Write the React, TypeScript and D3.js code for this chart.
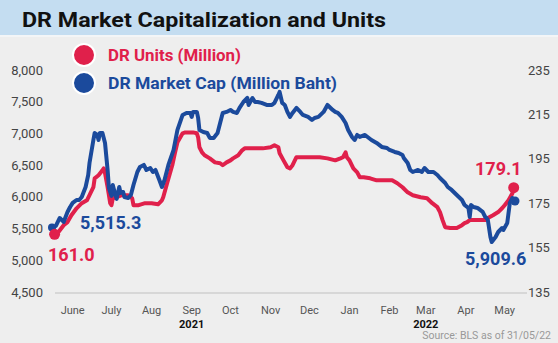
import React from "react";
import * as d3 from "d3";

const W = 558;
const H = 343;

const TITLE = "DR Market Capitalization and Units";
const SOURCE = "Source: BLS as of 31/05/22";
const LEGEND_UNITS = "DR Units (Million)";
const LEGEND_CAP = "DR Market Cap (Million Baht)";

const START = new Date(2021, 4, 31);
const END = new Date(2022, 4, 24);

const leftTicks = [4500, 5000, 5500, 6000, 6500, 7000, 7500, 8000];
const rightTicks = [135, 155, 175, 195, 215, 235];
const monthLabels = ["June", "July", "Aug", "Sep", "Oct", "Nov", "Dec", "Jan", "Feb", "Mar", "Apr", "May"];
const yearLabels = [
  { month: 3, label: "2021" },
  { month: 9, label: "2022" },
];

// [days since 31 May 2021, value]
const marketCap: [number, number][] = [
  [0, 5515.3], [3, 5541], [6, 5667], [9, 5604], [12, 5762], [14, 5840], [16, 5904], [19, 5951],
  [21, 5951], [23, 5998], [26, 6156], [28, 6345], [29, 6534], [32, 6897], [33, 7007], [35, 6976],
  [36, 6897], [37, 7007], [39, 7007], [41, 6850], [43, 6424], [44, 6140], [46, 6014], [47, 6187],
  [49, 6030], [50, 5967], [52, 6156], [53, 6061], [55, 6077], [56, 5998], [59, 5982], [61, 6030],
  [63, 6187], [66, 6392], [68, 6471], [71, 6503], [73, 6424], [76, 6455], [78, 6392], [80, 6424],
  [83, 6266], [85, 6156], [87, 6266], [90, 6503], [94, 6739], [97, 7055], [101, 7291], [104, 7323],
  [107, 7323], [108, 7260], [109, 7339], [112, 7339], [113, 7244], [114, 7055], [117, 7023], [120, 7007],
  [122, 6929], [125, 6929], [128, 7007], [130, 7165], [132, 7323], [135, 7339], [138, 7370], [140, 7339],
  [143, 7323], [145, 7402], [148, 7496], [151, 7559], [152, 7449], [155, 7559], [157, 7496], [159, 7496],
  [162, 7481], [166, 7449], [170, 7449], [172, 7481], [175, 7607], [176, 7654], [178, 7481], [180, 7449],
  [182, 7339], [184, 7260], [186, 7323], [189, 7402], [192, 7339], [194, 7291], [198, 7260], [201, 7212],
  [203, 7244], [206, 7260], [210, 7339], [213, 7449], [217, 7370], [219, 7339], [221, 7323], [224, 7260],
  [227, 7165], [229, 7055], [232, 6944], [234, 6897], [236, 6976], [238, 6944], [242, 6976], [244, 6944],
  [247, 6897], [251, 6850], [255, 6787], [259, 6771], [261, 6739], [265, 6708], [268, 6692], [271, 6660],
  [272, 6613], [275, 6534], [277, 6424], [279, 6392], [283, 6424], [286, 6392], [288, 6455], [291, 6392],
  [295, 6392], [298, 6345], [300, 6298], [304, 6219], [306, 6156], [309, 6109], [313, 6030], [317, 5951],
  [319, 5872], [322, 5825], [323, 5683], [324, 5872], [326, 5840], [329, 5825], [333, 5762], [335, 5683],
  [336, 5667], [337, 5635], [339, 5367], [340, 5289], [343, 5367], [345, 5446], [348, 5509], [349, 5478],
  [352, 5588], [353, 5746], [354, 5904], [356, 5982], [358, 5935],
];

const units: [number, number][] = [
  [2, 161.0], [5, 162.0], [9, 165.1], [12, 166.5], [15, 169.6], [19, 172.7], [23, 175.0], [27, 176.3],
  [29, 178.6], [32, 182.2], [33, 186.2], [36, 187.6], [39, 189.8], [40, 190.7], [41, 188.5], [43, 182.2],
  [45, 175.0], [46, 174.1], [47, 177.2], [50, 177.7], [54, 178.6], [59, 178.6], [62, 177.2], [63, 174.1],
  [67, 174.1], [72, 175.0], [77, 175.0], [82, 174.5], [85, 176.3], [86, 177.7], [89, 184.0], [93, 192.1],
  [95, 197.5], [97, 202.4], [101, 206.5], [103, 206.9], [109, 206.9], [112, 206.5], [113, 204.7], [114, 200.2],
  [116, 197.9], [118, 196.6], [122, 195.2], [126, 193.4], [130, 193.0], [132, 192.1], [135, 193.4], [138, 194.3],
  [140, 195.2], [144, 196.6], [147, 198.8], [149, 199.7], [153, 199.7], [159, 199.7], [163, 199.7], [169, 200.2],
  [172, 201.1], [175, 200.2], [176, 197.5], [179, 194.3], [182, 191.2], [184, 190.7], [186, 192.1], [189, 195.7],
  [194, 195.7], [202, 195.7], [207, 195.7], [213, 195.2], [219, 194.3], [223, 195.2], [225, 195.7], [227, 197.9],
  [228, 195.7], [230, 194.3], [233, 190.7], [236, 188.9], [238, 186.7], [241, 186.7], [246, 186.2], [251, 185.3],
  [256, 185.3], [263, 185.3], [267, 184.0], [271, 182.2], [275, 179.9], [279, 178.6], [285, 177.7], [290, 177.2],
  [294, 175.0], [298, 173.2], [300, 171.0], [302, 167.4], [304, 164.2], [308, 163.8], [313, 163.8], [317, 165.1],
  [319, 166.0], [321, 166.5], [323, 167.4], [331, 167.4], [335, 167.4], [337, 168.3], [341, 169.6], [345, 171.0],
  [348, 172.7], [350, 174.1], [353, 176.3], [356, 179.5], [357, 182.0],
];

const capStartLabel = "5,515.3";
const capEndLabel = "5,909.6";
const unitsStartLabel = "161.0";
const unitsEndLabel = "179.1";

const RED = "#e0204b";
const BLUE = "#1b4a9c";
const FONT = "Roboto, 'Noto Sans', sans-serif";

const dayToDate = (d: number) => d3.timeDay.offset(START, d);

export default function App() {
  const x = d3.scaleTime().domain([START, END]).range([52, 515]);
  const yL = d3.scaleLinear().domain([4500, 8000]).range([292, 70]);
  const yR = d3.scaleLinear().domain([135, 235]).range([292, 70]);

  const capLine = d3
    .line<[number, number]>()
    .x((d) => x(dayToDate(d[0])))
    .y((d) => yL(d[1]))
    .curve(d3.curveLinear);
  const unitsLine = d3
    .line<[number, number]>()
    .x((d) => x(dayToDate(d[0])))
    .y((d) => yR(d[1]))
    .curve(d3.curveLinear);

  const monthDates = monthLabels.map((_, i) => new Date(2021, 5 + i, 16));

  const capFirst = marketCap[0];
  const capLast = marketCap[marketCap.length - 1];
  const uFirst = units[0];
  const uLast = units[units.length - 1];

  return (
    <svg width={W} height={H} style={{ position: "absolute", left: 0, top: 0, display: "block" }}>
      <rect x={0} y={0} width={W} height={H} fill="#eeeeee" />
      <rect x={0} y={0} width={W} height={35} fill="#c4ddf1" />
      <rect x={0} y={35} width={W} height={2} fill="#f3f5f7" />
      <text x={22} y={27} fontFamily={FONT} fontWeight={700} fontSize={21} fill="#111" textLength={364} lengthAdjust="spacingAndGlyphs">
        {TITLE}
      </text>

      {/* axis baseline */}
      <line x1={55} x2={527} y1={yL(4500) + 1} y2={yL(4500) + 1} stroke="#cfcfcf" strokeWidth={1.5} />

      {leftTicks.map((t) => (
        <text key={"l" + t} x={43} y={yL(t)} dy="0.35em" textAnchor="end" fontFamily={FONT} fontSize={13} fill="#444">
          {d3.format(",")(t)}
        </text>
      ))}
      {rightTicks.map((t) => (
        <text key={"r" + t} x={528} y={yR(t)} dy="0.35em" textAnchor="start" fontFamily={FONT} fontSize={13} fill="#444">
          {t}
        </text>
      ))}
      {monthLabels.map((m, i) => (
        <text key={m} x={x(monthDates[i])} y={314} textAnchor="middle" fontFamily={FONT} fontSize={11} fill="#555">
          {m}
        </text>
      ))}
      {yearLabels.map((yl) => (
        <text key={yl.label} x={x(monthDates[yl.month])} y={327.5} textAnchor="middle" fontFamily={FONT} fontWeight={700} fontSize={11} fill="#111">
          {yl.label}
        </text>
      ))}

      <path d={unitsLine(units) || ""} fill="none" stroke={RED} strokeWidth={4} strokeLinejoin="round" strokeLinecap="round" />
      <path d={capLine(marketCap) || ""} fill="none" stroke={BLUE} strokeWidth={4} strokeLinejoin="round" strokeLinecap="round" />

      <circle cx={x(dayToDate(capFirst[0]))} cy={yL(capFirst[1])} r={4} fill={BLUE} />
      <circle cx={x(dayToDate(uFirst[0]))} cy={yR(uFirst[1])} r={5.5} fill={RED} />
      <circle cx={x(dayToDate(uLast[0]))} cy={yR(uLast[1])} r={5.5} fill={RED} />
      <circle cx={x(dayToDate(capLast[0]))} cy={yL(capLast[1])} r={4.5} fill={BLUE} />

      <text x={80} y={229} fontFamily={FONT} fontWeight={700} fontSize={18} fill={BLUE}>{capStartLabel}</text>
      <text x={48} y={261} fontFamily={FONT} fontWeight={700} fontSize={18} fill={RED}>{unitsStartLabel}</text>
      <text x={475} y={175} fontFamily={FONT} fontWeight={700} fontSize={18} fill={RED}>{unitsEndLabel}</text>
      <text x={465} y={265} fontFamily={FONT} fontWeight={700} fontSize={18} fill={BLUE}>{capEndLabel}</text>

      {/* legend */}
      <circle cx={84} cy={55} r={11} fill={RED} stroke="#fff" strokeWidth={2} />
      <circle cx={84} cy={83} r={11} fill={BLUE} stroke="#fff" strokeWidth={2} />
      <text x={108} y={55} dy="0.35em" fontFamily={FONT} fontWeight={700} fontSize={17} fill={RED} textLength={133} lengthAdjust="spacingAndGlyphs">{LEGEND_UNITS}</text>
      <text x={108} y={83} dy="0.35em" fontFamily={FONT} fontWeight={700} fontSize={17} fill={BLUE} textLength={229} lengthAdjust="spacingAndGlyphs">{LEGEND_CAP}</text>

      <text x={551} y={339} textAnchor="end" fontFamily={FONT} fontSize={10.5} fill="#999">{SOURCE}</text>
    </svg>
  );
}
